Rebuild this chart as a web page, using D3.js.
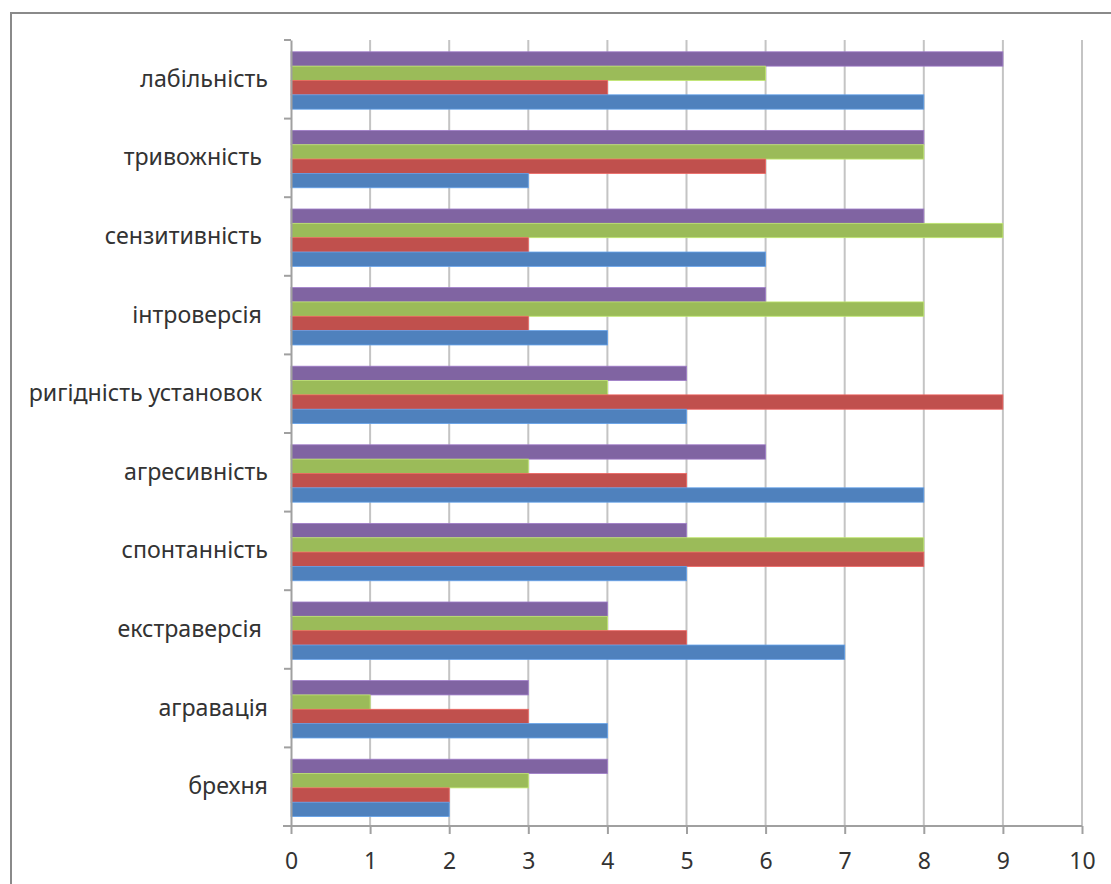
<!DOCTYPE html>
<html>
<head>
<meta charset="utf-8">
<script src="https://cdn.jsdelivr.net/npm/d3@7"></script>
<style>
  html, body { margin: 0; padding: 0; background: #fff; }
  svg { display: block; }
  text { white-space: pre; }
</style>
</head>
<body>
<svg id="chart" width="1111" height="884"></svg>
<script>
// Categories, top to bottom
const categories = [
  "лабільність",
  "тривожність ",
  "сензитивність ",
  "інтроверсія ",
  "ригідність установок ",
  "агресивність",
  "спонтанність",
  "екстраверсія ",
  "агравація",
  "брехня"
];
// Series values in category order (drawn bottom-up within each group: blue, red, green, purple)
const seriesBlue   = [8, 3, 6, 4, 5, 8, 5, 7, 4, 2];
const seriesRed    = [4, 6, 3, 3, 9, 5, 8, 5, 3, 2];
const seriesGreen  = [6, 8, 9, 8, 4, 3, 8, 4, 1, 3];
const seriesPurple = [9, 8, 8, 6, 5, 6, 5, 4, 3, 4];
const xTicks = [0, 1, 2, 3, 4, 5, 6, 7, 8, 9, 10];

const series = [
  { key: "purple", values: seriesPurple, color: "#8064A2" },
  { key: "green",  values: seriesGreen,  color: "#9BBB59" },
  { key: "red",    values: seriesRed,    color: "#C0504D" },
  { key: "blue",   values: seriesBlue,   color: "#4F81BD" }
];

const svg = d3.select("#chart");
const plotLeft = 291, plotRight = 1082, plotTop = 40, plotBottom = 826;
const font = "'Noto Sans', 'Open Sans', sans-serif";

// Chart frame
svg.append("rect")
  .attr("x", 11).attr("y", 13)
  .attr("width", 1130).attr("height", 900)
  .attr("fill", "none").attr("stroke", "#8a8a8a").attr("stroke-width", 2);

const x = d3.scaleLinear().domain([0, 10]).range([plotLeft, plotRight]);
const y = d3.scaleBand().domain(categories).range([plotTop, plotBottom]).padding(0);
const inner = d3.scaleBand()
  .domain(series.map(s => s.key))
  .range([y.bandwidth() * 0.15, y.bandwidth() * 0.88])
  .padding(0);

// Vertical gridlines
svg.append("g").selectAll("line")
  .data(xTicks.filter(t => t > 0))
  .join("line")
  .attr("x1", d => x(d)).attr("x2", d => x(d))
  .attr("y1", plotTop).attr("y2", plotBottom)
  .attr("stroke", "#c4c4c4").attr("stroke-width", 2);

// Bars
const groups = svg.append("g").selectAll("g")
  .data(categories)
  .join("g")
  .attr("transform", d => `translate(0,${y(d)})`);

groups.selectAll("rect")
  .data((d, i) => series.map(s => ({ key: s.key, value: s.values[i], color: s.color })))
  .join("rect")
  .attr("x", x(0))
  .attr("y", d => inner(d.key))
  .attr("width", d => x(d.value) - x(0))
  .attr("height", inner.bandwidth())
  .attr("fill", d => d.color)
  .attr("stroke", d => d3.color(d.color).brighter(0.6))
  .attr("stroke-width", 0.8);

// Bottom value axis
const xAxis = svg.append("g")
  .attr("transform", `translate(0,${plotBottom})`)
  .call(d3.axisBottom(x).tickValues(xTicks).tickSize(8).tickPadding(19).tickFormat(d3.format("d")));
xAxis.select(".domain").attr("stroke", "#a0a0a0").attr("stroke-width", 2)
  .attr("d", `M${plotLeft - 8},0H${plotRight}`);
xAxis.selectAll(".tick line").attr("stroke", "#a0a0a0").attr("stroke-width", 2);
xAxis.selectAll(".tick text")
  .attr("fill", "#333").attr("font-family", font).attr("font-size", 23);

// Left category axis
const yAxis = svg.append("g")
  .attr("transform", `translate(${plotLeft},0)`)
  .call(d3.axisLeft(y).tickSize(0).tickPadding(23));
yAxis.select(".domain").attr("stroke", "#a0a0a0").attr("stroke-width", 2);
yAxis.selectAll(".tick text")
  .attr("fill", "#333").attr("font-family", font).attr("font-size", 23.2);

// Category separator ticks
svg.append("g").selectAll("line")
  .data(d3.range(categories.length + 1))
  .join("line")
  .attr("x1", plotLeft - 7).attr("x2", plotLeft)
  .attr("y1", i => plotTop + i * y.step()).attr("y2", i => plotTop + i * y.step())
  .attr("stroke", "#a0a0a0").attr("stroke-width", 2);
</script>
</body>
</html>
